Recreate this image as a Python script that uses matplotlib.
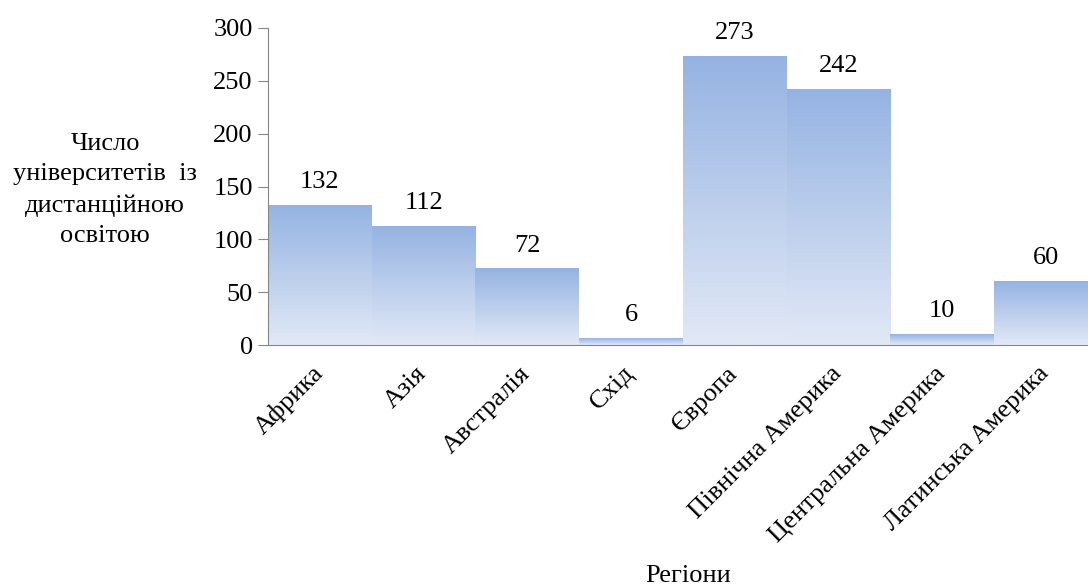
import matplotlib.pyplot as plt
import numpy as np
from matplotlib.colors import LinearSegmentedColormap

# data
regions = ['Африка', 'Азія', 'Австралія', 'Схід', 'Європа',
           'Північна Америка', 'Центральна Америка', 'Латинська Америка']
counts = [132, 112, 72, 6, 273, 242, 10, 60]

plt.rcParams['font.family'] = ['Liberation Serif', 'DejaVu Serif']

fig = plt.figure(figsize=(10.88, 5.86), dpi=100)
ax = fig.add_axes([268/1088, 1-345/586, 829.6/1088, 317/586])

cmap = LinearSegmentedColormap.from_list('blu', ['#e2e9f6', '#95b3e2'])
grad = np.linspace(0, 1, 256).reshape(-1, 1)

x = np.arange(len(regions))
bars = ax.bar(x, counts, width=1.0, color='none', edgecolor='none')
for b, v in zip(bars, counts):
    x0 = b.get_x()
    ax.imshow(grad, extent=[x0, x0 + b.get_width(), 0, v], origin='lower',
              aspect='auto', cmap=cmap, zorder=1, interpolation='bilinear')
    ax.annotate(str(v), (b.get_x() + b.get_width()/2, v), xytext=(0, 12.5),
                textcoords='offset points', ha='center', va='baseline', fontsize=19)

ax.set_xlim(-0.5, len(regions) - 0.5)
ax.set_ylim(0, 300)
ax.set_yticks(range(0, 301, 50))
ax.set_xticks(x)
ax.set_xticklabels(regions, rotation=45, ha='right', va='center',
                   rotation_mode='anchor', fontsize=19)
ax.tick_params(axis='x', length=0, pad=18)
ax.tick_params(axis='y', length=7, color='#868686', labelsize=19, pad=4)

for s in ['top', 'right']:
    ax.spines[s].set_visible(False)
for s in ['left', 'bottom']:
    ax.spines[s].set_color('#868686')
    ax.spines[s].set_zorder(3)

fig.text(105/1088, 1-190/586, 'Число\nуніверситетів  із\nдистанційною\nосвітою',
         ha='center', va='center', fontsize=19, linespacing=1.5)
fig.text(688/1088, 1-576/586, 'Регіони', ha='center', va='center', fontsize=19)

fig.savefig('out.png', dpi=100)
